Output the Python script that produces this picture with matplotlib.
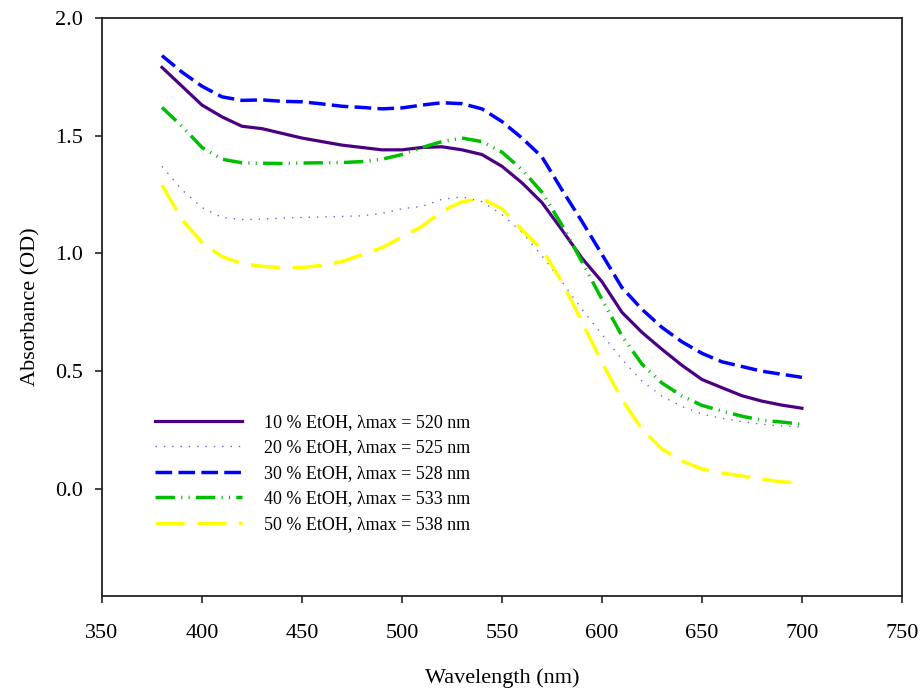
import numpy as np
import matplotlib
matplotlib.use("Agg")
import matplotlib.pyplot as plt

plt.rcParams['font.family'] = ['Liberation Serif', 'DejaVu Serif']
plt.rcParams['lines.scale_dashes'] = False

# wavelength grid (nm)
wl = np.arange(380, 701, 10)

# absorbance (OD)
a10 = [1.79, 1.71, 1.63, 1.58, 1.54, 1.53, 1.51, 1.49, 1.475, 1.46, 1.45, 1.44, 1.44,
       1.45, 1.453, 1.44, 1.42, 1.37, 1.30, 1.216, 1.10, 0.98, 0.88, 0.75, 0.665,
       0.593, 0.525, 0.465, 0.43, 0.396, 0.373, 0.356, 0.343]
a20 = [1.37, 1.27, 1.195, 1.153, 1.144, 1.146, 1.15, 1.153, 1.155, 1.157, 1.16, 1.17, 1.19,
       1.20, 1.23, 1.24, 1.22, 1.165, 1.09, 0.99, 0.88, 0.763, 0.657, 0.55, 0.458,
       0.394, 0.35, 0.318, 0.30, 0.286, 0.275, 0.267, 0.263]
a30 = [1.84, 1.77, 1.71, 1.665, 1.65, 1.652, 1.646, 1.644, 1.635, 1.625, 1.62, 1.614, 1.618,
       1.63, 1.64, 1.636, 1.614, 1.56, 1.49, 1.41, 1.27, 1.136, 0.996, 0.855, 0.763,
       0.686, 0.625, 0.576, 0.54, 0.52, 0.50, 0.487, 0.474]
a40 = [1.62, 1.54, 1.45, 1.40, 1.385, 1.383, 1.382, 1.384, 1.385, 1.386, 1.39, 1.40, 1.42,
       1.45, 1.475, 1.49, 1.475, 1.43, 1.356, 1.26, 1.12, 0.965, 0.805, 0.65, 0.53,
       0.45, 0.395, 0.355, 0.331, 0.309, 0.292, 0.284, 0.275]
a50 = [1.29, 1.144, 1.047, 0.987, 0.957, 0.945, 0.94, 0.94, 0.95, 0.966, 0.995, 1.025, 1.07,
       1.115, 1.18, 1.22, 1.233, 1.19, 1.10, 1.017, 0.88, 0.71, 0.537, 0.38, 0.254,
       0.17, 0.119, 0.085, 0.068, 0.055, 0.042, 0.03, 0.025]

labels = ["10 % EtOH, \u03bbmax = 520 nm",
          "20 % EtOH, \u03bbmax = 525 nm",
          "30 % EtOH, \u03bbmax = 528 nm",
          "40 % EtOH, \u03bbmax = 533 nm",
          "50 % EtOH, \u03bbmax = 538 nm"]

fig = plt.figure(figsize=(9.23, 6.9), dpi=100)
ax = fig.add_axes([0.1105, 0.136, 0.8667, 0.838])

ax.plot(wl, a10, color='#4B0082', lw=2.3, label=labels[0])
ax.plot(wl, a20, color='#6464d8', lw=1.0, dashes=(1, 5), label=labels[1])
ax.plot(wl, a30, color='#0000FF', lw=2.5, dashes=(12, 4.5), label=labels[2])
ax.plot(wl, a40, color='#00BE00', lw=2.5, dashes=(14, 4.5, 0.8, 4.5, 0.8, 4.5), label=labels[3])
ax.plot(wl, a50, color='#FFFF00', lw=2.5, dashes=(21, 9), label=labels[4])

ax.set_xlim(350, 750)
ax.set_ylim(-0.455, 2.0)
ax.set_xticks(np.arange(350, 751, 50))
ax.set_yticks([0.0, 0.5, 1.0, 1.5, 2.0])
ax.set_yticklabels(['0.0', '0.5', '1.0', '1.5', '2.0'])
ax.tick_params(direction='out', length=5, width=1.2, labelsize=16, color='#222222')
ax.tick_params(axis='x', pad=15)
ax.tick_params(axis='y', pad=9)
for s in ax.spines.values():
    s.set_linewidth(1.3)
    s.set_color('#222222')

ax.set_xlabel('Wavelength (nm)', fontsize=16, labelpad=18)
ax.set_ylabel('Absorbance (OD)', fontsize=16, labelpad=10)

ax.legend(loc='upper left', bbox_to_anchor=(0.066, 0.315), frameon=False,
          fontsize=13, handlelength=4.85, handletextpad=1.2, labelspacing=0.47,
          borderpad=0, borderaxespad=0)

fig.savefig('out.png', dpi=100)
